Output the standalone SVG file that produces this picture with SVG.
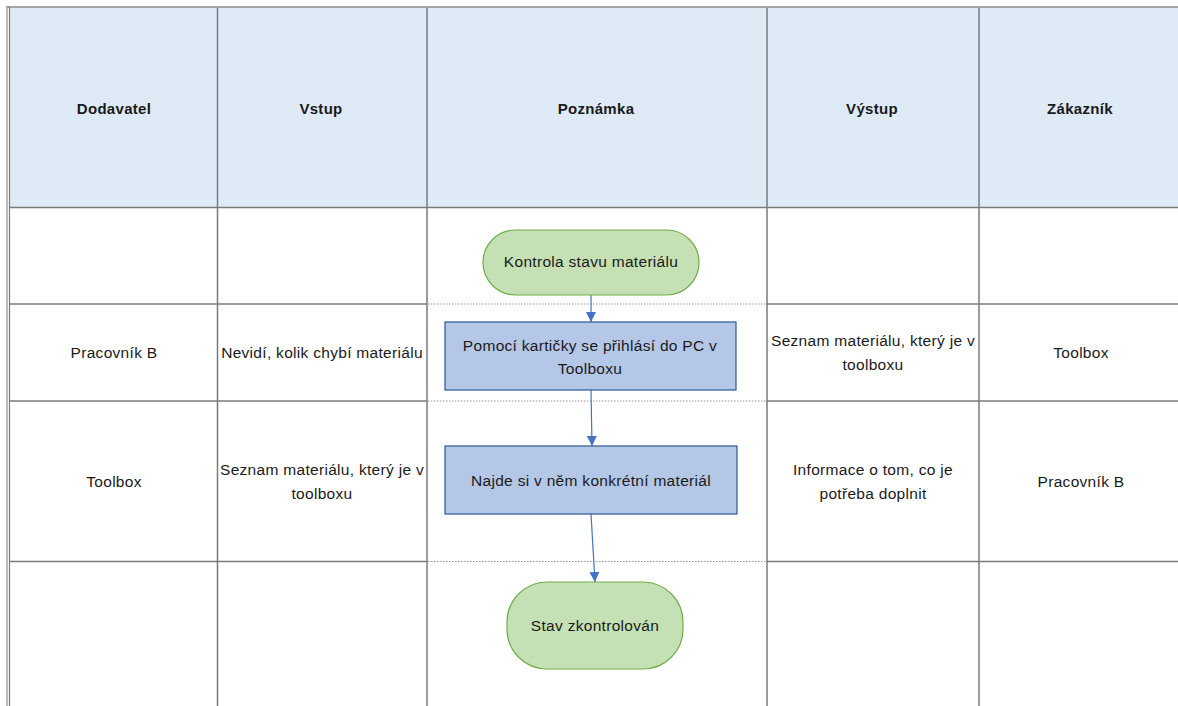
<svg xmlns="http://www.w3.org/2000/svg" width="1178" height="706" viewBox="0 0 1178 706">
  <defs>
    <marker id="arrow" viewBox="0 0 10 10" refX="10" refY="5" markerWidth="10" markerHeight="10" markerUnits="userSpaceOnUse" orient="auto">
      <path d="M0,0 L10,5 L0,10 Z" fill="#4472c4"/>
    </marker>
  </defs>
  <style>
    text { font-family: "Liberation Sans", Arial, sans-serif; font-size: 15.5px; letter-spacing: 0.3px; fill: #1a1a1a; text-anchor: middle; }
    .hdr { font-weight: bold; font-size: 15px; }
    .grid { stroke: #7a7a7a; stroke-width: 1.5; fill: none; }
    .dot { stroke: #9a9a9a; stroke-width: 1.2; stroke-dasharray: 1.5 1.5; fill: none; }
    .term { fill: #c5e0b4; stroke: #70ad47; stroke-width: 1.2; }
    .proc { fill: #b4c7e7; stroke: #2f5597; stroke-width: 1.2; }
    .conn { stroke: #4472c4; stroke-width: 1.2; fill: none; marker-end: url(#arrow); }
  </style>

  <!-- page background -->
  <rect x="0" y="0" width="1178" height="706" fill="#ffffff"/>

  <!-- header band -->
  <rect x="10" y="8" width="1168" height="199" fill="#deebf7"/>

  <!-- outer borders -->
  <line x1="6" y1="7" x2="1178" y2="7" stroke="#a6a6a6" stroke-width="2"/>
  <line x1="7" y1="6" x2="7" y2="706" stroke="#a6a6a6" stroke-width="1.5"/>
  <line x1="9.5" y1="7" x2="9.5" y2="706" stroke="#7a7a7a" stroke-width="1.2"/>

  <!-- table grid -->
  <g id="grid">
    <line class="grid" x1="10" y1="207.5" x2="1178" y2="207.5"/>
    <line class="grid" x1="10" y1="304" x2="427" y2="304"/>
    <line class="grid" x1="767" y1="304" x2="1178" y2="304"/>
    <line class="grid" x1="10" y1="401" x2="427" y2="401"/>
    <line class="grid" x1="767" y1="401" x2="1178" y2="401"/>
    <line class="grid" x1="10" y1="561.5" x2="427" y2="561.5"/>
    <line class="grid" x1="767" y1="561.5" x2="1178" y2="561.5"/>
    <line class="dot" x1="428" y1="304" x2="766" y2="304"/>
    <line class="dot" x1="428" y1="401" x2="766" y2="401"/>
    <line class="dot" x1="428" y1="561.5" x2="766" y2="561.5"/>
    <line class="grid" x1="217.5" y1="8" x2="217.5" y2="706"/>
    <line class="grid" x1="427" y1="8" x2="427" y2="706"/>
    <line class="grid" x1="767" y1="8" x2="767" y2="706"/>
    <line class="grid" x1="979" y1="8" x2="979" y2="706"/>
  </g>

  <!-- column headings -->
  <g id="headers">
    <text class="hdr" x="114" y="114">Dodavatel</text>
    <text class="hdr" x="321" y="114">Vstup</text>
    <text class="hdr" x="596" y="114">Poznámka</text>
    <text class="hdr" x="872" y="114">Výstup</text>
    <text class="hdr" x="1080" y="114">Zákazník</text>
  </g>

  <!-- cell texts -->
  <g id="row-1">
    <text x="114" y="358">Pracovník B</text>
    <text x="322" y="358">Nevidí, kolik chybí materiálu</text>
    <text x="873" y="346">Seznam materiálu, který je v</text>
    <text x="873" y="370">toolboxu</text>
    <text x="1081" y="358">Toolbox</text>
  </g>
  <g id="row-2">
    <text x="114" y="487">Toolbox</text>
    <text x="322" y="475">Seznam materiálu, který je v</text>
    <text x="322" y="499">toolboxu</text>
    <text x="873" y="475">Informace o tom, co je</text>
    <text x="873" y="499">potřeba doplnit</text>
    <text x="1081" y="487">Pracovník B</text>
  </g>

  <!-- connectors -->
  <g id="connectors">
    <path class="conn" d="M591,295 L591,322"/>
    <path class="conn" d="M591,390 L592,446"/>
    <path class="conn" d="M591,514 L595,582"/>
  </g>

  <!-- flow nodes -->
  <g id="start">
    <rect class="term" x="483" y="230" width="216" height="65" rx="32.5" ry="32.5"/>
    <text x="591" y="267">Kontrola stavu materiálu</text>
  </g>
  <g id="login">
    <rect class="proc" x="445" y="322" width="291" height="68"/>
    <text x="590" y="351">Pomocí kartičky se přihlásí do PC v</text>
    <text x="590" y="374">Toolboxu</text>
  </g>
  <g id="find">
    <rect class="proc" x="445" y="446" width="292" height="68"/>
    <text x="591" y="486">Najde si v něm konkrétní materiál</text>
  </g>
  <g id="end">
    <rect class="term" x="507" y="582" width="176" height="87" rx="40" ry="40"/>
    <text x="595" y="631">Stav zkontrolován</text>
  </g>
</svg>
